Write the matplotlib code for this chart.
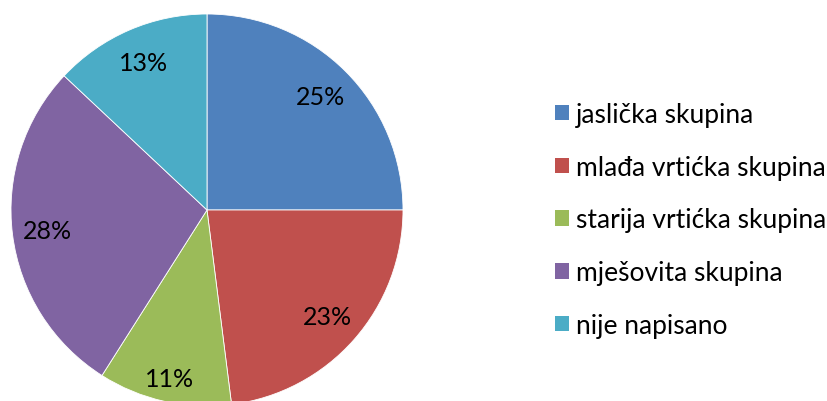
import numpy as np
import matplotlib
matplotlib.use("Agg")
import matplotlib.pyplot as plt
from matplotlib.patches import Patch

categories = ["jaslička skupina", "mlađa vrtićka skupina", "starija vrtićka skupina",
              "mješovita skupina", "nije napisano"]
values = [25, 23, 11, 28, 13]
colors = ["#4F81BD", "#C0504D", "#9BBB59", "#8064A2", "#4BACC6"]

plt.rcParams['font.family'] = ['Lato', 'DejaVu Sans']

W, H = 827, 402
fig = plt.figure(figsize=(W / 100, H / 100), dpi=100)
ax = fig.add_axes([0, 0, 1, 1])
ax.set_xlim(0, W)
ax.set_ylim(0, H)
ax.set_aspect('equal')
ax.axis('off')

wedges, texts, autotexts = ax.pie(
    values, colors=colors, startangle=90, counterclock=False,
    center=(207, H - 211), radius=196,
    autopct='%d%%', pctdistance=0.82,
    wedgeprops=dict(edgecolor='white', linewidth=0.6),
    textprops=dict(fontsize=18, color='black'))
ax.set_xlim(0, W)
ax.set_ylim(0, H)

# small slice label sits a bit further out (best-fit style)
w = wedges[2]
mid = np.deg2rad((w.theta1 + w.theta2) / 2)
cx, cy = w.center
autotexts[2].set_position((cx + 0.88 * w.r * np.cos(mid), cy + 0.88 * w.r * np.sin(mid)))

handles = [Patch(facecolor=c, edgecolor='none') for c in colors]
fig.legend(handles, categories, loc='upper left', bbox_to_anchor=(555 / W, 1 - 103 / H),
           frameon=False, fontsize=19, handlelength=0.53, handleheight=0.53,
           handletextpad=0.27, labelspacing=1.05, borderaxespad=0, borderpad=0)

fig.savefig("out.png", dpi=100)
